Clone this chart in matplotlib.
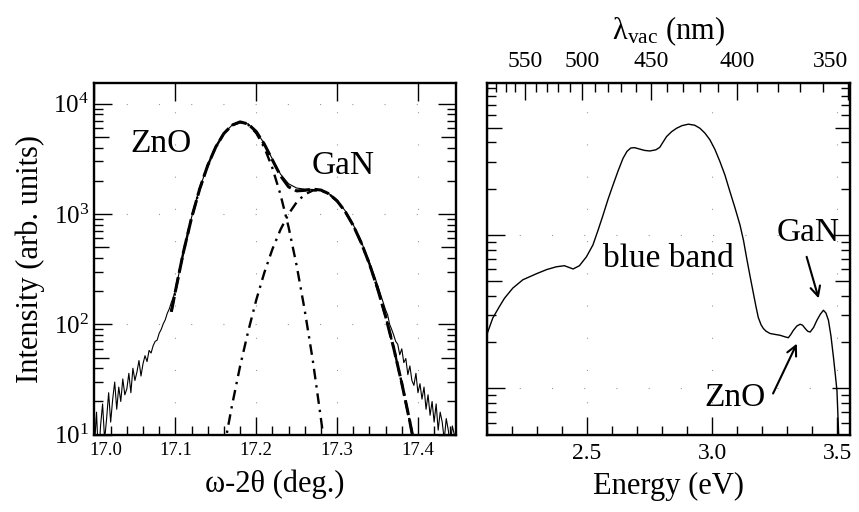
import numpy as np
import matplotlib
matplotlib.use('Agg')
import matplotlib.pyplot as plt
from matplotlib.ticker import FixedLocator, FuncFormatter, NullFormatter
from matplotlib.transforms import ScaledTranslation

plt.rcParams['font.family'] = ['Liberation Serif', 'DejaVu Serif']
plt.rcParams['mathtext.fontset'] = 'custom'
plt.rcParams['mathtext.rm'] = 'Liberation Serif'
plt.rcParams['mathtext.it'] = 'Liberation Serif:italic'

# ---- left panel: XRD omega-2theta scan ----
x_left_tail = np.round(np.linspace(17.0, 17.1, 41), 4)
y_left_tail = [8, 16, 6, 12, 19, 9, 14, 24, 13, 21, 30, 17, 27, 20, 32, 23, 26, 36, 24, 40,
               31, 37, 47, 34, 44, 52, 46, 58, 55, 64, 70, 72, 83, 90, 101, 110, 126, 138,
               158, 176, 200]
x_center = np.round(np.linspace(17.11, 17.36, 26), 3)
y_center = [460, 930, 1700, 2780, 4080, 5380, 6380, 6800, 6550, 5600, 4350, 3150, 2300,
            1880, 1720, 1680, 1670, 1640, 1530, 1330, 1070, 800, 560, 365, 228, 135]
x_right_tail = np.round(np.linspace(17.3625, 17.4475, 35), 4)
y_right_tail = [122, 100, 90, 80, 70, 66, 53, 60, 45, 49, 35, 42, 31, 28, 36, 24, 29, 21, 27,
                17, 23, 15, 20, 13, 19, 11, 16, 13, 9, 14, 11, 8, 12, 10, 7]

x_meas = np.concatenate([x_left_tail, x_center, x_right_tail])
y_meas = np.concatenate([y_left_tail, y_center, y_right_tail])

x_zno = [17.095, 17.10, 17.11, 17.12, 17.13, 17.14, 17.15, 17.16, 17.17, 17.18, 17.19,
         17.20, 17.21, 17.22, 17.23, 17.24, 17.25, 17.26, 17.27, 17.28, 17.29]
y_zno = [130, 199, 452, 920, 1680, 2753, 4055, 5364, 6372, 6795, 6462, 5419, 4007,
         2611, 1502, 762, 341, 134, 47, 14, 3.9]
x_gan = np.round(np.linspace(17.16, 17.40, 25), 2)
y_gan = [7.4, 18.3, 41.6, 86, 166, 294, 480, 722, 1001, 1279, 1505, 1634, 1635, 1520, 1314,
         1055, 787, 546, 353, 212, 118, 61, 29.3, 13.1, 5.5]
x_sum = [17.095, 17.10, 17.11, 17.12, 17.13, 17.14, 17.15, 17.16, 17.17, 17.18, 17.19,
         17.20, 17.21, 17.22, 17.23, 17.24, 17.25, 17.26, 17.27, 17.28, 17.29, 17.30,
         17.31, 17.32, 17.33, 17.34, 17.35, 17.36, 17.37, 17.38, 17.39, 17.40]
y_sum = [130, 199, 452, 920, 1680, 2753, 4055, 5371, 6390, 6837, 6548, 5585, 4301,
         3091, 2224, 1763, 1620, 1639, 1681, 1649, 1524, 1314, 1055, 787, 546, 353, 212,
         118, 61, 29.3, 13.1, 5.5]

# ---- right panel: PL spectrum ----
energy = [2.100, 2.124, 2.150, 2.171, 2.204, 2.244, 2.300, 2.340, 2.378, 2.410, 2.445, 2.470,
          2.498, 2.524, 2.545, 2.564, 2.584, 2.604, 2.624, 2.644, 2.660, 2.675, 2.690, 2.711,
          2.730, 2.751, 2.775, 2.791, 2.805, 2.818, 2.838, 2.858, 2.880, 2.905, 2.930, 2.951,
          2.971, 2.991, 3.011, 3.031, 3.051, 3.071, 3.091, 3.111, 3.125, 3.138, 3.151, 3.164,
          3.175, 3.184, 3.195, 3.204, 3.215, 3.231, 3.250, 3.271, 3.290, 3.304, 3.314, 3.324,
          3.338, 3.351, 3.361, 3.371, 3.381, 3.391, 3.405, 3.418, 3.432, 3.444, 3.454, 3.464,
          3.474, 3.484, 3.491, 3.498, 3.503, 3.506]
pl = [2.23, 2.87, 3.4, 3.87, 4.5, 5.1, 5.6, 5.95, 6.2, 6.3, 6.0, 6.3,
      7.2, 8.6, 10.8, 13.4, 17, 21.1, 26, 31.5, 35, 36.8, 37, 36.2,
      35.5, 35.2, 35.8, 37.2, 40.5, 43.7, 47, 49.5, 51.5, 52.6, 51.8, 49.5,
      46, 41.6, 36, 30, 24.5, 19.1, 15, 11.6, 9.2, 7, 5.4, 4.2,
      3.4, 2.9, 2.6, 2.46, 2.36, 2.28, 2.25, 2.22, 2.17, 2.14, 2.25, 2.39,
      2.55, 2.62, 2.58, 2.46, 2.36, 2.33, 2.5, 2.78, 3.05, 3.23, 3.1, 2.78,
      2.2, 1.6, 1.25, 0.97, 0.6, 0.45]

wl_major = [550, 500, 450, 400, 350]
wl_minor = list(range(350, 600, 10))

fig = plt.figure(figsize=(8.59, 5.12), dpi=100)
ax1 = fig.add_axes([0.110, 0.151, 0.4208, 0.6875])
ax2 = fig.add_axes([0.5666, 0.151, 0.4229, 0.6875])

grid_kw = dict(color='0.6', linestyle=(0, (1, 28)), linewidth=0.8)


def style_log_y(ax, majors, minors, show_labels, size):
    ax.set_yscale('log')
    ax.yaxis.set_major_locator(FixedLocator(majors))
    ax.yaxis.set_minor_locator(FixedLocator(minors))
    ax.yaxis.set_minor_formatter(NullFormatter())
    if show_labels:
        ax.yaxis.set_major_formatter(FuncFormatter(
            lambda v, p: r'$\mathregular{10^{%d}}$' % round(np.log10(v))
            if abs(np.log10(v) - round(np.log10(v))) < 1e-6 else ''))
    else:
        ax.yaxis.set_major_formatter(NullFormatter())
    ax.tick_params(axis='y', labelsize=size)


for ax in (ax1, ax2):
    for s in ax.spines.values():
        s.set_linewidth(1.7)
    ax.tick_params(which='both', direction='in', width=1.0, right=True)
    ax.tick_params(which='major', length=13)
    ax.tick_params(which='minor', length=6.5)

# left panel
ax1.plot(x_meas, y_meas, color='k', lw=0.8)
ax1.plot(x_zno, y_zno, color='k', lw=1.7, dashes=(4.5, 2.5, 1, 2.5))
ax1.plot(x_gan, y_gan, color='k', lw=1.7, dashes=(4.5, 2.5, 1, 2.5))
ax1.plot(x_sum, y_sum, color='k', lw=2.2, dashes=(5, 1.5))
ax1.set_xlim(17.0, 17.447)
ax1.set_ylim(10, 15500)
dec = [10, 100, 1000]
style_log_y(ax1, [10, 50, 100, 500, 1000, 5000, 10000],
            [d * m for d in dec for m in (2, 3, 4, 6, 7, 8, 9)], True, 18)
ax1.xaxis.set_major_locator(FixedLocator([17.0, 17.1, 17.2, 17.3, 17.4]))
ax1.xaxis.set_minor_locator(FixedLocator(np.round(np.arange(17.0, 17.45, 0.02), 2)))
ax1.set_xticklabels(['17.0', '17.1', '17.2', '17.3', '17.4'])
ax1.tick_params(axis='x', labelsize=13.5, pad=5, top=True)
ax1.tick_params(axis='y', pad=4)
first = ax1.get_xticklabels()[0]
first.set_transform(first.get_transform() + ScaledTranslation(0.11, 0, fig.dpi_scale_trans))
ax1.grid(True, which='major', **grid_kw)
for i, t in enumerate(ax1.yaxis.get_major_ticks()):
    if i % 2 == 1:
        t.tick1line.set_markersize(11)
        t.tick2line.set_markersize(11)
        t.gridline.set_visible(False)
ax1.set_xlabel('ω-2θ (deg.)', fontsize=22, labelpad=8)
ax1.set_ylabel('Intensity (arb. units)', fontsize=22, labelpad=6)
ax1.text(17.082, 4300, 'ZnO', fontsize=24, ha='center', va='center')
ax1.text(17.307, 2720, 'GaN', fontsize=24, ha='center', va='center')

# right panel
ax2.plot(energy, pl, color='k', lw=1.0)
ax2.set_xlim(2.1, 3.55)
ax2.set_ylim(0.5, 98)
style_log_y(ax2, [1, 5, 10, 50],
            [0.6, 0.7, 0.8, 0.9, 2, 3, 4, 6, 7, 8, 9, 20, 30, 40, 60, 70, 80, 90], False, 17)
ax2.xaxis.set_major_locator(FixedLocator([2.5, 3.0, 3.5]))
ax2.xaxis.set_minor_locator(FixedLocator(np.round(np.arange(2.1, 3.56, 0.1), 1)))
ax2.set_xticklabels(['2.5', '3.0', '3.5'])
ax2.tick_params(axis='x', labelsize=17, pad=6, top=False)
ax2.grid(True, which='major', **grid_kw)
for i, t in enumerate(ax2.yaxis.get_major_ticks()):
    if i % 2 == 1:
        t.tick1line.set_markersize(11)
        t.tick2line.set_markersize(11)
        t.gridline.set_visible(False)
ax2.set_xlabel('Energy (eV)', fontsize=22, labelpad=6)

top = ax2.twiny()
top.set_xlim(ax2.get_xlim())
top.xaxis.set_major_locator(FixedLocator([1239.84 / w for w in wl_major]))
top.xaxis.set_minor_locator(FixedLocator([1239.84 / w for w in wl_minor]))
top.set_xticklabels([str(w) for w in wl_major])
top.tick_params(which='both', direction='in', width=1.0, labelsize=17, pad=8)
top.tick_params(which='major', length=12)
top.tick_params(which='minor', length=6.5)
top.get_xticklabels()[-1].set_ha('right')
top.set_xlabel(r'$\mathregular{\lambda_{vac}}$ (nm)', fontsize=22, labelpad=8)

ax2.text(2.825, 7.0, 'blue band', fontsize=24, ha='center', va='center')
ax2.text(3.382, 10.3, 'GaN', fontsize=24, ha='center', va='center')
ax2.text(3.091, 0.873, 'ZnO', fontsize=24, ha='center', va='center')
arrow = dict(arrowstyle='->,head_length=0.7,head_width=0.35', lw=1.5, color='k',
             shrinkA=0, shrinkB=0)
ax2.annotate('', xy=(3.425, 3.86), xytext=(3.377, 7.2), arrowprops=arrow)
ax2.annotate('', xy=(3.338, 1.96), xytext=(3.243, 0.927), arrowprops=arrow)

fig.savefig('out.png', dpi=100)
